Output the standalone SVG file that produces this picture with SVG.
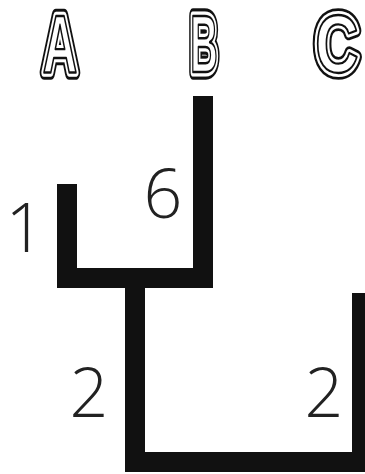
<svg xmlns="http://www.w3.org/2000/svg" xmlns:xlink="http://www.w3.org/1999/xlink" width="365" height="474" viewBox="0 0 365 474">
<style>
.lt{font-family:"Liberation Sans",Arial,sans-serif;font-weight:bold;font-size:81px;text-anchor:middle;vector-effect:non-scaling-stroke;stroke-linejoin:round}
.o1{fill:#111;stroke:#111;stroke-width:12}
.o2{fill:#111;stroke:#fff;stroke-width:7}
.o3{fill:#fff;stroke:#111;stroke-width:2}
.num{font-family:"Open Sans","Liberation Sans",sans-serif;font-weight:300;font-size:68px;fill:#222;text-anchor:middle}
.br{fill:none;stroke:#111;stroke-width:20;stroke-linecap:butt;stroke-linejoin:miter}
</style>
<defs>
<text id="tA" class="lt" x="0" y="0">A</text>
<text id="tB" class="lt" x="0" y="0">B</text>
<text id="tC" class="lt" x="0" y="0">C</text>
</defs>
<rect width="365" height="474" fill="#fff"/>
<g id="node-A" transform="translate(60,72) scale(0.59,1)">
<use xlink:href="#tA" class="o1"/><use xlink:href="#tA" class="o2"/><use xlink:href="#tA" class="o3"/>
</g>
<g id="node-B" transform="translate(204,72) scale(0.47,1)">
<use xlink:href="#tB" class="o1"/><use xlink:href="#tB" class="o2"/><use xlink:href="#tB" class="o3"/>
</g>
<g id="node-C" transform="translate(337,72) scale(0.74,1)">
<use xlink:href="#tC" class="o1"/><use xlink:href="#tC" class="o2"/><use xlink:href="#tC" class="o3"/>
</g>
<g id="connectors">
<path class="br" d="M67,184 V278 H203 V96"/>
<path class="br" d="M135,278 V462 H362 V293"/>
</g>
<g id="labels">
<text class="num" x="25" y="252">1</text>
<text class="num" x="163" y="218">6</text>
<text class="num" x="89" y="417">2</text>
<text class="num" x="324" y="417">2</text>
</g>
</svg>
